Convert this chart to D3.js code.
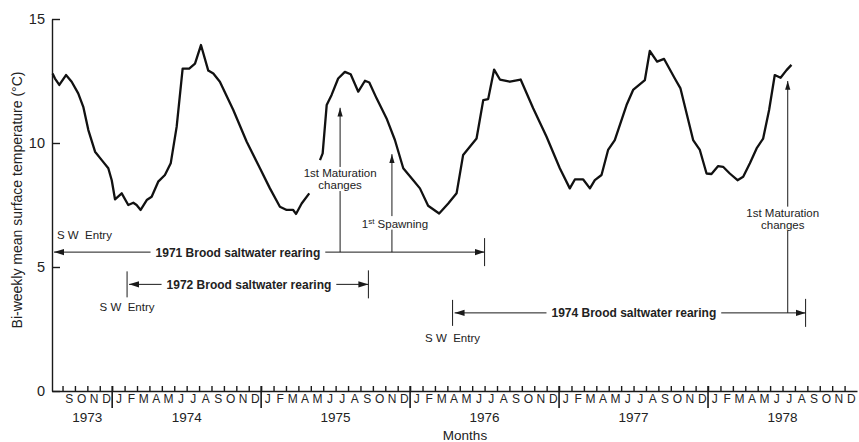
<!DOCTYPE html>
<html>
<head>
<meta charset="utf-8">
<script src="https://cdn.jsdelivr.net/npm/d3@7/dist/d3.min.js"></script>
<style>
  body { margin: 0; background: #fff; }
  svg { font-family: "Liberation Sans", Arial, sans-serif; display: block; }
</style>
</head>
<body>
<div id="chart"></div>
<script>
// sample times as decimal years, bi-weekly means (°C); null = missing record
const sampleYears = [
  1973.60, 1973.616, 1973.645, 1973.690, 1973.728, 1973.772, 1973.806, 1973.840, 1973.885, 1973.930,
  1973.974, 1973.997, 1974.019, 1974.064, 1974.108, 1974.142, 1974.164, 1974.191, 1974.232, 1974.265,
  1974.309, 1974.354, 1974.393, 1974.433, 1974.473, 1974.517, 1974.556, 1974.596, 1974.645, 1974.679,
  1974.723, 1974.813, 1974.903, 1974.992, 1975.059, 1975.126, 1975.171, 1975.215, 1975.234, 1975.272,
  1975.323, 1975.36,
  1975.395, 1975.413, 1975.440, 1975.473, 1975.517, 1975.562, 1975.601, 1975.652, 1975.697, 1975.726,
  1975.775, 1975.842, 1975.898, 1975.954, 1976.021, 1976.066, 1976.121, 1976.195, 1976.256, 1976.312,
  1976.356, 1976.446, 1976.491, 1976.524, 1976.564, 1976.603, 1976.670, 1976.742, 1976.826, 1976.916,
  1977.005, 1977.072, 1977.106, 1977.162, 1977.207, 1977.240, 1977.285, 1977.329, 1977.374, 1977.453,
  1977.497, 1977.576, 1977.609, 1977.658, 1977.705, 1977.777, 1977.815, 1977.900, 1977.945, 1977.990,
  1978.023, 1978.068, 1978.101, 1978.146, 1978.198, 1978.236, 1978.281, 1978.326, 1978.370, 1978.410,
  1978.448, 1978.487, 1978.527, 1978.560
];
const temperatures = [
  12.8, 12.6, 12.34, 12.74, 12.47, 12.0, 11.46, 10.52, 9.65, 9.31,
  8.98, 8.5, 7.73, 7.97, 7.5, 7.59, 7.5, 7.3, 7.7, 7.83,
  8.44, 8.71, 9.18, 10.66, 13.0, 13.0, 13.2, 13.95, 12.92, 12.8,
  12.47, 11.33, 10.05, 8.98, 8.17, 7.43, 7.3, 7.3, 7.14, 7.56,
  7.97, null,
  9.31, 9.58, 11.53, 11.94, 12.6, 12.87, 12.77, 12.07, 12.51, 12.44,
  11.8, 10.99, 10.12, 8.98, 8.5, 8.17, 7.47, 7.16, 7.56, 7.97,
  9.52, 10.18, 11.73, 11.77, 12.96, 12.56, 12.47, 12.56, 11.4, 10.25,
  8.98, 8.17, 8.53, 8.53, 8.17, 8.5, 8.71, 9.72, 10.12, 11.53,
  12.14, 12.54, 13.71, 13.28, 13.39, 12.6, 12.2, 10.12, 9.72, 8.77,
  8.75, 9.07, 9.04, 8.77, 8.5, 8.64, 9.18, 9.78, 10.18, 11.33,
  12.74, 12.63, 12.94, 13.15
];

const monthLetters = ["J", "F", "M", "A", "M", "J", "J", "A", "S", "O", "N", "D"];
const years = [1973, 1974, 1975, 1976, 1977, 1978];
const yTicks = [0, 5, 10, 15];

// brood rearing periods: start/end (decimal years), level (°C) of the bracket
const broodLabels = ["1971 Brood saltwater rearing", "1972 Brood saltwater rearing", "1974 Brood saltwater rearing"];
const broodStart = [1973.596, 1974.10, 1976.285];
const broodEnd = [1976.50, 1975.72, 1978.655];
const broodLevel = [5.6, 4.3, 3.15];
const broodLabelAt = [1974.844, 1974.918, 1977.502];

// event arrows: time, arrow tip (°C), label centre (°C), bracket the line runs down to
const eventTimes = [1975.53, 1975.878, 1978.535];
const eventTips = [11.42, 9.55, 12.5];
const eventLabelLevel = [8.55, 6.75, 6.95];
const eventBase = [5.6, 5.6, 3.15];

const width = 859, height = 442;

const x = d3.scaleLinear().domain([1973.596, 1979]).range([52, 857]);
const y = d3.scaleLinear().domain([0, 15]).range([391, 19]);

const svg = d3.select("#chart").append("svg")
  .attr("width", width).attr("height", height)
  .attr("viewBox", [0, 0, width, height]);

const ink = "#1a1a1a";

// y axis, ticks pointing inward
svg.append("g")
  .attr("transform", `translate(${x.range()[0]},0)`)
  .call(d3.axisLeft(y).tickValues(yTicks).tickSize(-8).tickSizeOuter(0).tickPadding(7))
  .call(g => g.selectAll("text").attr("font-size", 14.5).attr("fill", "#222"))
  .call(g => g.selectAll("line,path").attr("stroke", ink).attr("stroke-width", 1.4));

// x axis: month boundaries
const monthStarts = [];
const monthCenters = [];
years.forEach(yr => d3.range(12).forEach(m => {
  const s = yr + m / 12;
  if (s >= x.domain()[0] - 1e-6) monthStarts.push(s);
  if (s >= x.domain()[0]) monthCenters.push(s + 1 / 24);
}));

svg.append("g")
  .attr("transform", `translate(0,${y(0)})`)
  .call(d3.axisBottom(x).tickValues(monthStarts).tickSize(-5).tickSizeOuter(0).tickFormat(""))
  .call(g => g.selectAll("line,path").attr("stroke", ink).attr("stroke-width", 1.4));

svg.append("g")
  .attr("transform", `translate(0,${y(0)})`)
  .call(d3.axisBottom(x).tickValues(monthCenters).tickSize(0).tickPadding(3)
    .tickFormat(d => monthLetters[Math.round((d - Math.floor(d)) * 12 - 0.5)]))
  .call(g => g.select(".domain").remove())
  .call(g => g.selectAll("text").attr("font-size", 12).attr("fill", "#222"));

// year boundaries
svg.append("g").selectAll("line")
  .data(years.slice(1))
  .join("line")
  .attr("x1", d => x(d)).attr("x2", d => x(d))
  .attr("y1", y(0) - 5).attr("y2", y(0) + 17)
  .attr("stroke", ink).attr("stroke-width", 1.6);

// year labels centred under their labelled months
svg.append("g").selectAll("text")
  .data(years)
  .join("text")
  .attr("x", d => {
    const c = monthCenters.filter(m => Math.floor(m) === d);
    return x(d3.mean(c));
  })
  .attr("y", y(0) + 31)
  .attr("text-anchor", "middle")
  .attr("font-size", 13.5)
  .attr("fill", "#222")
  .text(d => d);

svg.append("text")
  .attr("x", 465).attr("y", 440)
  .attr("text-anchor", "middle")
  .attr("font-size", 13.5).attr("fill", "#222")
  .text("Months");

svg.append("text")
  .attr("transform", `translate(22,${(y(0) + y(15)) / 2 - 5}) rotate(-90)`)
  .attr("text-anchor", "middle")
  .attr("font-size", 14).attr("fill", "#222")
  .text("Bi-weekly mean surface temperature (°C)");

// temperature line
const series = sampleYears.map((t, i) => ({ t, v: temperatures[i] }));
svg.append("path")
  .datum(series)
  .attr("fill", "none")
  .attr("stroke", "#111")
  .attr("stroke-width", 2.3)
  .attr("stroke-linejoin", "round")
  .attr("d", d3.line().defined(d => d.v != null).x(d => x(d.t)).y(d => y(d.v)));

// arrow heads
const defs = svg.append("defs");
defs.append("marker")
  .attr("id", "head").attr("viewBox", "0 -4 10 8")
  .attr("refX", 10).attr("refY", 0)
  .attr("markerWidth", 10).attr("markerHeight", 8)
  .attr("markerUnits", "userSpaceOnUse")
  .attr("orient", "auto-start-reverse")
  .append("path").attr("d", "M0,-3.2L10,0L0,3.2Z").attr("fill", ink);
defs.append("marker")
  .attr("id", "headv").attr("viewBox", "0 -4 10 8")
  .attr("refX", 10).attr("refY", 0)
  .attr("markerWidth", 9).attr("markerHeight", 7)
  .attr("markerUnits", "userSpaceOnUse")
  .attr("orient", "auto")
  .append("path").attr("d", "M0,-3L10,0L0,3Z").attr("fill", ink);

const ann = svg.append("g").attr("stroke", ink).attr("stroke-width", 1);

// event arrows
eventTimes.forEach((t, i) => {
  ann.append("line")
    .attr("x1", x(t)).attr("x2", x(t))
    .attr("y1", y(eventBase[i])).attr("y2", y(eventTips[i]))
    .attr("marker-end", "url(#headv)");
});

// brood brackets
broodLabels.forEach((lab, i) => {
  const yy = y(broodLevel[i]);
  ann.append("line")
    .attr("x1", x(broodStart[i]) + 2).attr("x2", x(broodEnd[i]))
    .attr("y1", yy).attr("y2", yy)
    .attr("marker-start", "url(#head)")
    .attr("marker-end", "url(#head)");
  ann.append("line")
    .attr("x1", x(broodEnd[i])).attr("x2", x(broodEnd[i]))
    .attr("y1", yy - 14).attr("y2", yy + 14);
  if (i > 0) {
    ann.append("line")
      .attr("x1", x(broodStart[i])).attr("x2", x(broodStart[i]))
      .attr("y1", yy - 13).attr("y2", yy + 13);
  }
});

// text with a white box that cuts the line behind it
function boxedText(px, py, lines, opts) {
  const g = svg.append("g");
  const rect = g.append("rect").attr("fill", "#fff");
  const txt = g.append("text")
    .attr("x", px).attr("y", py)
    .attr("text-anchor", opts.anchor || "middle")
    .attr("font-size", opts.size)
    .attr("font-weight", opts.weight || "normal")
    .attr("fill", "#222");
  lines.forEach((l, k) => {
    const ts = txt.append("tspan").attr("x", px).attr("dy", k === 0 ? 0 : opts.size * 1.05);
    if (Array.isArray(l)) {
      ts.text(l[0]);
      ts.append("tspan").attr("font-size", opts.size * 0.7).attr("baseline-shift", "super").text(l[1]);
      ts.append("tspan").text(l[2]);
    } else ts.text(l);
  });
  const b = txt.node().getBBox();
  const pad = opts.pad == null ? 4 : opts.pad;
  rect.attr("x", b.x - pad).attr("y", b.y).attr("width", b.width + 2 * pad).attr("height", b.height);
  return g;
}

broodLabels.forEach((lab, i) => {
  boxedText(x(broodLabelAt[i]), y(broodLevel[i]) + 4.5, [lab], { size: 12, weight: "bold", pad: 5 });
});

boxedText(x(eventTimes[0]), y(eventLabelLevel[0]) - 2, ["1st Maturation", "changes"], { size: 11.5, pad: 1 });
boxedText(x(eventTimes[1]) + 3, y(eventLabelLevel[1]) + 4, [["1", "st", " Spawning"]], { size: 11.5, pad: 1 });
boxedText(x(eventTimes[2]) - 5, y(eventLabelLevel[2]) - 2, ["1st Maturation", "changes"], { size: 11.5, pad: 1 });

// SW entry labels
const swEntry = [
  { t: broodStart[0], v: 6.3, anchor: "start", dx: 5 },
  { t: broodStart[1], v: 3.4, anchor: "middle", dx: 0 },
  { t: broodStart[2], v: 2.15, anchor: "middle", dx: 0 }
];
svg.append("g").selectAll("text")
  .data(swEntry)
  .join("text")
  .attr("x", d => x(d.t) + d.dx)
  .attr("y", d => y(d.v) + 4)
  .attr("text-anchor", d => d.anchor)
  .attr("font-size", 11.5)
  .attr("fill", "#222")
  .attr("xml:space", "preserve")
  .style("white-space", "pre")
  .text("S W  Entry");
</script>
</body>
</html>
